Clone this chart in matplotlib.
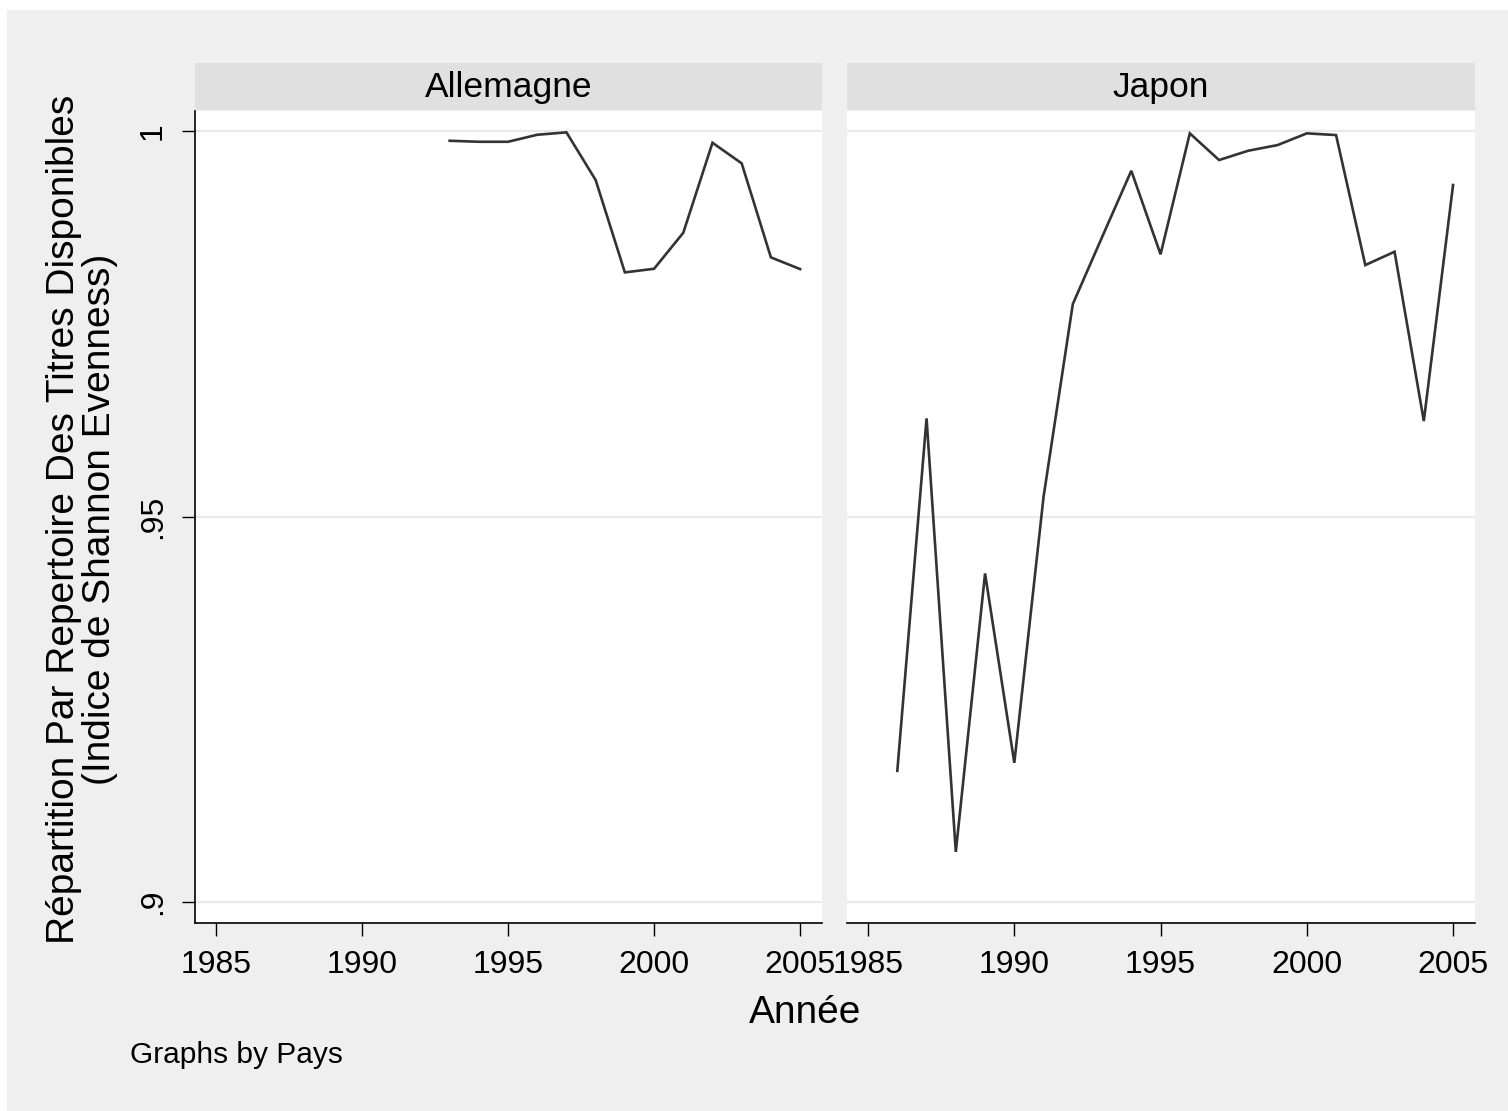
import matplotlib
matplotlib.use("Agg")
from matplotlib import pyplot as plt

plt.rcParams['font.family'] = ['Liberation Sans', 'DejaVu Sans']

# donnees
annees_all = [1993, 1994, 1995, 1996, 1997, 1998, 1999, 2000, 2001, 2002, 2003, 2004, 2005]
even_all = [0.99874, 0.99861, 0.99861, 0.99952, 0.99983, 0.99364, 0.98167, 0.98214,
            0.98681, 0.99848, 0.99581, 0.98362, 0.98210]

annees_jap = [1986, 1987, 1988, 1989, 1990, 1991, 1992, 1993, 1994, 1995, 1996, 1997,
              1998, 1999, 2000, 2001, 2002, 2003, 2004, 2005]
even_jap = [0.91703, 0.96274, 0.90652, 0.94263, 0.91807, 0.95257, 0.97756, 0.98624,
            0.99485, 0.98401, 0.99970, 0.99624, 0.99745, 0.99818, 0.99970, 0.99948,
            0.98262, 0.98435, 0.96239, 0.99300]

pays = ["Allemagne", "Japon"]
xticks = [1985, 1990, 1995, 2000, 2005]
yticks = [0.9, 0.95, 1.0]
ylabels = [".9", ".95", "1"]

W, H = 1508, 1111
fig = plt.figure(figsize=(W / 100, H / 100), dpi=100, facecolor="white")


def box(x0, y0, x1, y1):
    return [x0 / W, 1 - y1 / H, (x1 - x0) / W, (y1 - y0) / H]


# fond gris (graph region)
fond = fig.add_axes(box(7, 10, W + 2, H + 2), zorder=-5)
fond.set_facecolor("#efefef")
fond.set_xticks([])
fond.set_yticks([])
for s in fond.spines.values():
    s.set_visible(False)

panneaux = [(195, 822), (847, 1475)]
donnees = [(annees_all, even_all), (annees_jap, even_jap)]

for i, ((x0, x1), (xs, ys), nom) in enumerate(zip(panneaux, donnees, pays)):
    ax = fig.add_axes(box(x0, 111, x1, 923))
    ax.set_facecolor("white")
    ax.plot(xs, ys, color="#333333", lw=1.9, solid_joinstyle="miter")
    ax.set_xlim(1984.28, 2005.75)
    ax.set_ylim(0.8973, 1.0026)
    for yv in yticks:
        ax.axhline(yv, color="#eaeaea", lw=1.6, zorder=0)
    ax.set_xticks(xticks)
    ax.set_xticklabels([str(t) for t in xticks], fontsize=23)
    ax.tick_params(axis="x", length=9.5, width=1.0, pad=10, colors="black")
    for s in ["top", "right"]:
        ax.spines[s].set_visible(False)
    ax.spines["bottom"].set_linewidth(1.2)
    if i == 0:
        ax.set_yticks(yticks)
        ax.set_yticklabels(ylabels, fontsize=23, rotation=90, va="center")
        ax.tick_params(axis="y", length=9.5, width=1.0, pad=10)
        ax.spines["left"].set_linewidth(1.2)
    else:
        ax.set_yticks([])
        ax.spines["left"].set_visible(False)

    # bandeau du titre
    st = fig.add_axes(box(x0, 63, x1, 110))
    st.set_facecolor("#e0e0e0")
    st.set_xticks([])
    st.set_yticks([])
    for s in st.spines.values():
        s.set_visible(False)
    st.text(0.5, 0.48, nom, ha="center", va="center", fontsize=25.5, transform=st.transAxes)

fig.text(82 / W, 1 - 519 / H,
         "Répartition Par Repertoire Des Titres Disponibles\n(Indice de Shannon Evenness)",
         rotation=90, ha="center", va="center", multialignment="center",
         fontsize=28, linespacing=1.0)
fig.text(805 / W, 1 - 1013 / H, "Année", ha="center", va="center", fontsize=28)
fig.text(130 / W, 1 - 1055 / H, "Graphs by Pays", ha="left", va="center", fontsize=21.5)

fig.savefig("out.png", dpi=100, facecolor=fig.get_facecolor())
